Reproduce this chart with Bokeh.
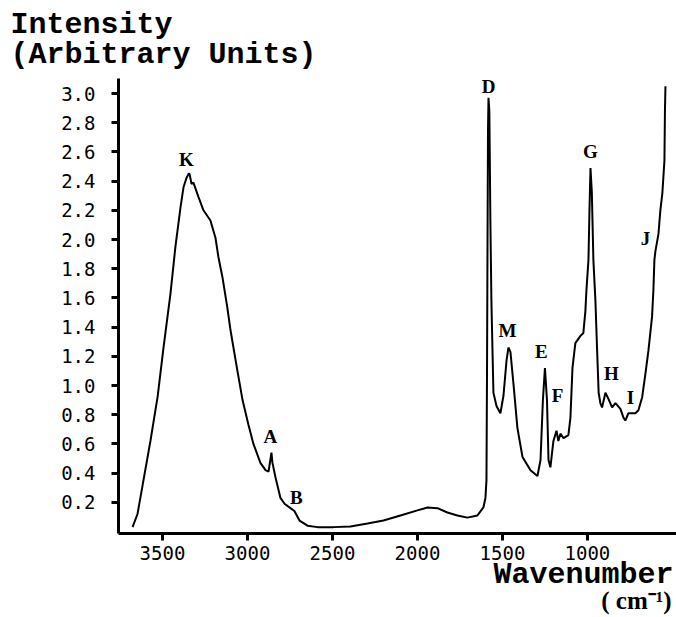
from bokeh.plotting import figure
from bokeh.models import FixedTicker, PrintfTickFormatter, Label, Range1d, ColumnDataSource, LinearAxis
from bokeh.core.properties import value
from bokeh.embed import file_html
from bokeh.resources import INLINE

wavenumber = [3676, 3647, 3612, 3571, 3529, 3494, 3453, 3424, 3394, 3376, 3359, 3347, 3341,
              3329, 3318, 3288, 3259, 3218, 3188, 3171, 3147, 3118, 3100, 3065, 3029, 2994,
              2965, 2924, 2894, 2876, 2859, 2853, 2835, 2806, 2782, 2747, 2724, 2694, 2647,
              2588, 2494, 2394, 2294, 2200, 2100, 2000, 1941, 1882, 1824, 1765, 1706, 1647,
              1612, 1600, 1594, 1591, 1588, 1585, 1582, 1577, 1571, 1565, 1553, 1535, 1512,
              1494, 1476, 1465, 1453, 1435, 1412, 1382, 1335, 1294, 1276, 1262, 1250, 1238,
              1229, 1218, 1200, 1182, 1171, 1159, 1141, 1112, 1100, 1088, 1071, 1041, 1024,
              1012, 1006, 994, 988, 982, 974, 965, 953, 943, 934, 924, 914, 894, 877, 855,
              835, 806, 788, 777, 759, 735, 718, 700, 678, 659, 641, 620, 612, 606, 600, 582,
              571, 559, 547, 544, 541]
intensity = [0.03, 0.12, 0.35, 0.62, 0.92, 1.26, 1.63, 1.95, 2.22, 2.36, 2.42, 2.45, 2.45,
             2.38, 2.39, 2.29, 2.20, 2.13, 2.01, 1.88, 1.74, 1.53, 1.38, 1.14, 0.90, 0.73,
             0.60, 0.47, 0.42, 0.41, 0.54, 0.47, 0.37, 0.23, 0.19, 0.16, 0.14, 0.075, 0.04,
             0.03, 0.03, 0.035, 0.055, 0.075, 0.11, 0.145, 0.165, 0.16, 0.13, 0.11, 0.095, 0.11,
             0.165, 0.23, 0.35, 1.03, 1.92, 2.75, 2.97, 2.88, 2.13, 1.58, 0.95, 0.86, 0.81,
             0.93, 1.17, 1.26, 1.23, 1.01, 0.71, 0.51, 0.42, 0.38, 0.49, 0.90, 1.12, 0.90,
             0.49, 0.44, 0.62, 0.69, 0.62, 0.67, 0.64, 0.66, 0.78, 1.12, 1.29, 1.34, 1.36,
             1.51, 1.65, 1.86, 2.20, 2.49, 2.32, 1.86, 1.58, 1.24, 0.95, 0.88, 0.85, 0.95, 0.91, 0.85,
             0.88, 0.84, 0.78, 0.76, 0.81, 0.81, 0.81, 0.83, 0.92, 1.08, 1.24, 1.47, 1.65, 1.86, 1.92, 2.04,
             2.20, 2.32, 2.54, 2.88, 3.05]

peak_labels = ["K", "A", "B", "D", "M", "E", "F", "G", "H", "I", "J"]
peak_wn = [3359, 2865, 2712, 1582, 1471, 1271, 1176, 982, 859, 747, 659]
peak_int = [2.55, 0.65, 0.23, 3.05, 1.38, 1.23, 0.93, 2.60, 1.08, 0.92, 2.01]

x_ticks = [3500, 3000, 2500, 2000, 1500, 1000]
y_ticks = [0.2, 0.4, 0.6, 0.8, 1.0, 1.2, 1.4, 1.6, 1.8, 2.0, 2.2, 2.4, 2.6, 2.8, 3.0]

X_LEFT, X_RIGHT = 3759, 476
Y_BOTTOM, Y_TOP = -0.015, 3.10

p = figure(width=676, height=617, output_backend="svg", toolbar_location=None, title=None,
           x_range=Range1d(4453, 476), y_range=Range1d(-0.589, 3.637),
           x_axis_location=None, y_axis_location=None,
           min_border_left=0, min_border_right=0, min_border_top=0, min_border_bottom=0)
p.outline_line_color = None
p.xgrid.visible = False
p.ygrid.visible = False
p.background_fill_color = "white"
p.border_fill_color = "white"

xaxis = LinearAxis(fixed_location=Y_BOTTOM, bounds=(X_RIGHT, X_LEFT))
yaxis = LinearAxis(fixed_location=X_LEFT, bounds=(Y_BOTTOM, Y_TOP))
p.add_layout(xaxis, "below")
p.add_layout(yaxis, "left")

for ax in (xaxis, yaxis):
    ax.axis_line_width = 3
    ax.axis_line_color = "black"
    ax.major_tick_line_width = 3
    ax.major_tick_line_color = "black"
    ax.major_tick_out = 7
    ax.major_tick_in = 0
    ax.minor_tick_line_color = None
    ax.major_label_text_font = "DejaVu Sans Mono"
    ax.major_label_text_font_size = "19px"
    ax.major_label_text_color = "black"

xaxis.ticker = FixedTicker(ticks=x_ticks)
xaxis.major_label_standoff = 5
yaxis.ticker = FixedTicker(ticks=y_ticks)
yaxis.formatter = PrintfTickFormatter(format="%.1f")
yaxis.major_label_standoff = 16

p.line(wavenumber, intensity, line_color="black", line_width=2)

src = ColumnDataSource(dict(x=peak_wn, y=peak_int, t=peak_labels))
p.text(x="x", y="y", text="t", source=src, text_font=value("Liberation Serif"),
       text_font_style="bold", text_font_size="19px", text_align="center",
       text_baseline="middle", text_color="black")

title_font = "Liberation Mono"
p.add_layout(Label(x=4394, y=3.466, text="Intensity", text_font=title_font,
                   text_font_size="30px", text_font_style="bold", text_baseline="alphabetic",
                   text_color="black"))
p.add_layout(Label(x=4394, y=3.267, text="(Arbitrary Units)", text_font=title_font,
                   text_font_size="30px", text_font_style="bold", text_baseline="alphabetic",
                   text_color="black"))
p.add_layout(Label(x=494, y=-0.301, text="Wavenumber", text_font=title_font,
                   text_font_size="30px", text_font_style="bold", text_align="right",
                   text_baseline="alphabetic", text_color="black"))
p.add_layout(Label(x=505, y=-0.470, text="( cm\u207b\u00b9)", text_font="Liberation Serif",
                   text_font_size="25px", text_font_style="bold", text_align="right",
                   text_baseline="alphabetic", text_color="black"))

open("out.html", "w").write(file_html(p, INLINE))
